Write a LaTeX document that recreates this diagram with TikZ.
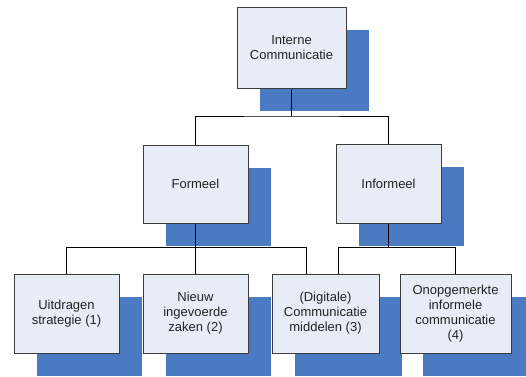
\documentclass[tikz,border=0pt]{standalone}
\usepackage{fontspec}
\setmainfont{Liberation Sans}
\usetikzlibrary{shadows}
\definecolor{boxfill}{HTML}{E7ECF7}
\definecolor{boxline}{HTML}{3C3C3C}
\definecolor{shade}{HTML}{4A7AC2}
\definecolor{txt}{HTML}{222222}
\begin{document}
\begin{tikzpicture}[x=1pt,y=-1pt,
  orgbox/.style={draw=boxline, line width=1pt, fill=boxfill, inner sep=0pt,
    minimum height=79pt, align=center, text=txt,
    font=\fontsize{13}{15}\selectfont,
    general shadow={fill=shade, shadow xshift=23pt, shadow yshift=-23pt}},
  link/.style={draw=black, line width=0.9pt}]
\useasboundingbox (0,0) rectangle (526,376);
\clip (0,0) rectangle (526,376);

% hierarchy boxes
\node[orgbox, minimum width=109pt, minimum height=81pt] (top) at (291.5,47.5) {Interne\\Communicatie};
\node[orgbox, minimum width=105pt, minimum height=78pt] (form) at (195.5,184) {Formeel};
\node[orgbox, minimum width=105pt] (inf) at (388.5,183.5) {Informeel};
\node[orgbox, minimum width=105pt] (b1) at (66.5,313.5) {Uitdragen\\strategie (1)};
\node[orgbox, minimum width=105pt] (b2) at (195.5,313.5) {Nieuw\\ingevoerde\\zaken (2)};
\node[orgbox, minimum width=107pt] (b3) at (325.5,313.5) {(Digitale)\\Communicatie\\middelen (3)};
\node[orgbox, minimum width=111pt] (b4) at (455.5,313.5) {Onopgemerkte\\informele\\communicatie\\(4)};

% junction points of the elbow connectors
\coordinate (j1) at (top.south |- 0,116);
\coordinate (j2) at (form.south |- 0,247);
\coordinate (j3) at (inf.south |- 0,247);
\coordinate (b3l) at (306,274);
\coordinate (b3r) at (338,274);

% connectors
\draw[link] (top.south) -- (j1);
\draw[link] (form.north) |- (j1) -| (inf.north);
\draw[link] (form.south) -- (b2.north);
\draw[link] (b1.north) |- (j2) -| (b3l);
\draw[link] (inf.south) -- (j3);
\draw[link] (b3r) |- (j3) -| (b4.north);
\end{tikzpicture}
\end{document}
